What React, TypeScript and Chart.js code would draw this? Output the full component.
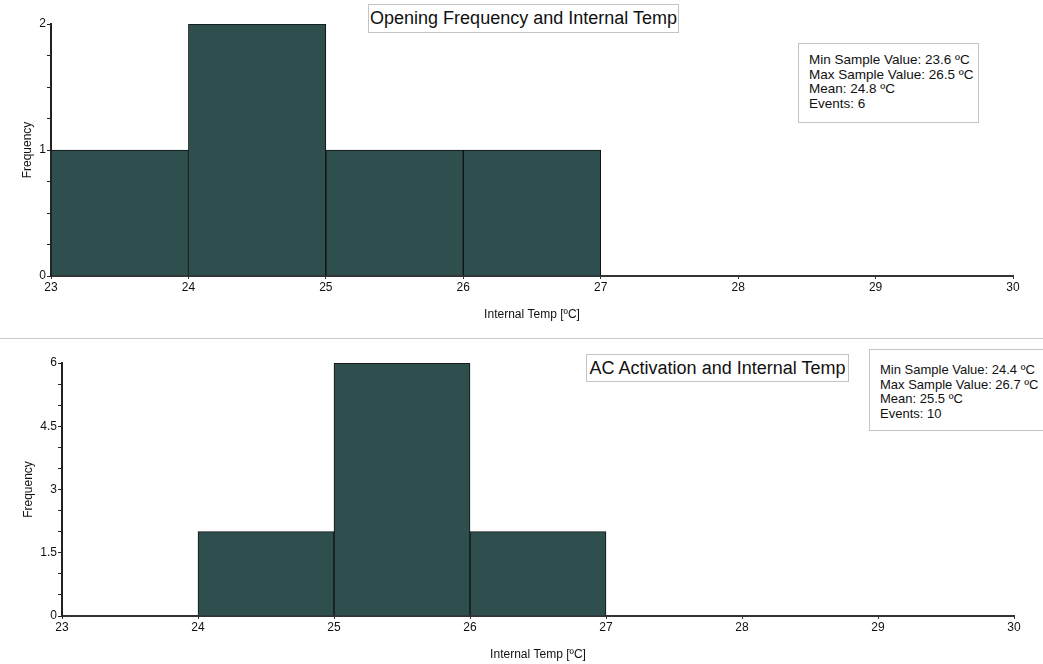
import React, { useEffect, useRef } from "react";
import { Chart, registerables } from "chart.js";

Chart.register(...registerables);

// Histogram bins (bin centres, 1 ºC wide) and counts
const tempRange = [23, 30];
const openingBinCenters = [23.5, 24.5, 25.5, 26.5];
const openingCounts = [1, 2, 1, 1];
const acBinCenters = [24.5, 25.5, 26.5];
const acCounts = [2, 6, 2];

const openingStats = [
  "Min Sample Value: 23.6 ºC",
  "Max Sample Value: 26.5 ºC",
  "Mean: 24.8 ºC",
  "Events: 6",
];
const acStats = [
  "Min Sample Value: 24.4 ºC",
  "Max Sample Value: 26.7 ºC",
  "Mean: 25.5 ºC",
  "Events: 10",
];

const FONT = "'Liberation Sans', Arial, sans-serif";
const BAR_FILL = "#2F4F4F";

type HistProps = {
  centers: number[];
  counts: number[];
  yMax: number;
  yStep: number;
  yLabelStep: number;
  width: number;
  height: number;
  yWidth: number;
  xHeight: number;
  padTop: number;
  padRight: number;
  yTitlePad: number;
  xTitlePad: number;
};

function Histogram(p: HistProps) {
  const ref = useRef<HTMLCanvasElement | null>(null);
  useEffect(() => {
    if (!ref.current) return;
    const chart = new Chart(ref.current, {
      type: "bar",
      data: {
        datasets: [
          {
            data: p.counts.map((c, i) => ({ x: p.centers[i], y: c })),
            backgroundColor: BAR_FILL,
            borderColor: "#111",
            borderWidth: 1,
            barPercentage: 1,
            categoryPercentage: 1,
          },
        ],
      },
      options: {
        responsive: false,
        animation: false,
        devicePixelRatio: 1,
        layout: { padding: { top: p.padTop, right: p.padRight, left: 0, bottom: 0 } },
        plugins: { legend: { display: false }, tooltip: { enabled: false } },
        scales: {
          x: {
            type: "linear",
            min: tempRange[0],
            max: tempRange[1],
            offset: false,
            afterFit: (s: any) => {
              s.height = p.xHeight;
            },
            border: { color: "#333", width: 2 },
            grid: { drawOnChartArea: false, offset: false, tickLength: 3, color: "#333" },
            ticks: {
              stepSize: 1,
              autoSkip: false,
              maxRotation: 0,
              padding: 1,
              color: "#111",
              font: { family: FONT, size: 12 },
            },
            title: {
              display: true,
              text: "Internal Temp [ºC]",
              color: "#111",
              font: { family: FONT, size: 12 },
              padding: { top: 0, bottom: p.xTitlePad },
            },
          },
          y: {
            min: 0,
            max: p.yMax,
            afterFit: (s: any) => {
              s.width = p.yWidth;
            },
            border: { color: "#222", width: 2 },
            grid: { drawOnChartArea: false, tickLength: 4, color: "#222" },
            ticks: {
              stepSize: p.yStep,
              maxTicksLimit: 100,
              autoSkip: false,
              padding: 1,
              color: "#111",
              font: { family: FONT, size: 12 },
              callback: (v: any) => {
                const r = Number(v) / p.yLabelStep;
                return Math.abs(r - Math.round(r)) < 1e-6 ? String(v) : "";
              },
            },
            title: {
              display: true,
              text: "Frequency",
              color: "#111",
              font: { family: FONT, size: 12 },
              padding: { top: p.yTitlePad, bottom: 0 },
            },
          },
        },
      },
    } as any);
    return () => chart.destroy();
  }, []);
  return (
    <canvas ref={ref} width={p.width} height={p.height} style={{ display: "block" }} />
  );
}

function TitleBox({ text, left, top, width, height }: any) {
  return (
    <div
      style={{
        position: "absolute",
        left,
        top,
        width,
        height,
        boxSizing: "border-box",
        border: "1px solid #c4c4c4",
        background: "#fff",
        fontFamily: FONT,
        fontSize: 18,
        color: "#111",
        display: "flex",
        alignItems: "center",
        justifyContent: "center",
        whiteSpace: "nowrap",
      }}
    >
      {text}
    </div>
  );
}

function StatsBox({ lines, left, top, width, height, padTop, fontSize }: any) {
  return (
    <div
      style={{
        position: "absolute",
        left,
        top,
        width,
        height,
        boxSizing: "border-box",
        border: "1px solid #c4c4c4",
        background: "#fff",
        fontFamily: FONT,
        fontSize,
        lineHeight: "14.6px",
        color: "#111",
        padding: `${padTop}px 0 0 10px`,
        whiteSpace: "nowrap",
      }}
    >
      {lines.map((l: string) => (
        <div key={l}>{l}</div>
      ))}
    </div>
  );
}

export default function App() {
  return (
    <div
      style={{
        position: "absolute",
        left: 0,
        top: 0,
        width: 1043,
        height: 664,
        background: "#fff",
        overflow: "hidden",
      }}
    >
      <div style={{ position: "absolute", left: 0, top: 0 }}>
        <Histogram
          centers={openingBinCenters}
          counts={openingCounts}
          yMax={2}
          yStep={0.25}
          yLabelStep={1}
          width={1043}
          height={338}
          yWidth={51}
          xHeight={62}
          padTop={24}
          padRight={30}
          yTitlePad={20}
          xTitlePad={16}
        />
      </div>
      <div
        style={{
          position: "absolute",
          left: 0,
          top: 338,
          width: 1043,
          height: 1,
          background: "#c8c8c8",
        }}
      />
      <div style={{ position: "absolute", left: 0, top: 339 }}>
        <Histogram
          centers={acBinCenters}
          counts={acCounts}
          yMax={6}
          yStep={0.5}
          yLabelStep={1.5}
          width={1043}
          height={325}
          yWidth={62}
          xHeight={48}
          padTop={24}
          padRight={29}
          yTitlePad={21}
          xTitlePad={2}
        />
      </div>
      <TitleBox text="Opening Frequency and Internal Temp" left={368} top={4} width={311} height={29} />
      <StatsBox lines={openingStats} left={798} top={43} width={181} height={80} padTop={9} fontSize={13.5} />
      <TitleBox text="AC Activation and Internal Temp" left={586} top={354} width={263} height={28} />
      <StatsBox lines={acStats} left={869} top={349} width={190} height={82} padTop={13} fontSize={13} />
    </div>
  );
}
